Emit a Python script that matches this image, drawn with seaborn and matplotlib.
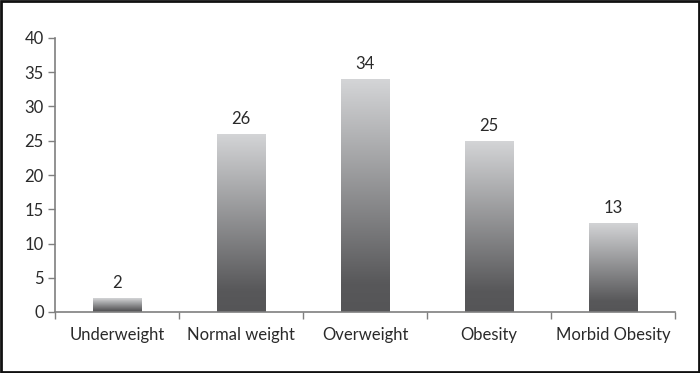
import numpy as np
import pandas as pd
import matplotlib
matplotlib.use('Agg')
import matplotlib.pyplot as plt
import seaborn as sns
from matplotlib.colors import LinearSegmentedColormap
from matplotlib.patches import Rectangle

# --- Data ---
categories = ['Underweight', 'Normal weight', 'Overweight', 'Obesity', 'Morbid Obesity']
values = [2, 26, 34, 25, 13]
y_ticks = [0, 5, 10, 15, 20, 25, 30, 35, 40]

sns.set_style('white')
plt.rcParams['font.family'] = ['Lato', 'DejaVu Sans']

df = pd.DataFrame({'category': categories, 'value': values})

fig = plt.figure(figsize=(7, 3.73), dpi=100)
ax = fig.add_axes([55 / 700, 1 - 312 / 373, 620 / 700, 274 / 373])

sns.barplot(data=df, x='category', y='value', ax=ax, width=0.39,
            color='#888888', saturation=1, edgecolor='none')

# gradient fill: light at top, dark at bottom (per bar)
grad = LinearSegmentedColormap.from_list('g', [(0.0, '#555557'), (0.12, '#58585a'),
                                               (1.0, '#d4d5d7')])
gimg = np.linspace(0, 1, 256).reshape(-1, 1)
for p in ax.patches:
    x0, y0 = p.get_x(), p.get_y()
    w, h = p.get_width(), p.get_height()
    p.set_facecolor('none')
    im = ax.imshow(gimg, cmap=grad, origin='lower', aspect='auto',
                   extent=[x0, x0 + w, y0, y0 + h], zorder=2, interpolation='bilinear')
    im.set_clip_path(p)
    ax.text(x0 + w / 2, h + 1.0, f'{h:.0f}', ha='center', va='bottom',
            fontsize=12, color='#2a2a2a')

ax.set_xlim(-0.5, len(categories) - 0.5)
ax.set_ylim(0, 40)
ax.set_yticks(y_ticks)
ax.set_xticks(range(len(categories)))
ax.set_xticklabels(categories)
ax.set_xticks(np.arange(-0.5, len(categories)), minor=True)
ax.set_xlabel('')
ax.set_ylabel('')

for side in ['top', 'right']:
    ax.spines[side].set_visible(False)
for side in ['left', 'bottom']:
    ax.spines[side].set_color('#7f7f7f')
    ax.spines[side].set_linewidth(1.2)

ax.tick_params(axis='y', which='major', left=True, length=5, width=1, color='#7f7f7f',
               labelsize=12, labelcolor='#2a2a2a', pad=3)
ax.tick_params(axis='x', which='major', bottom=False, labelsize=12,
               labelcolor='#2a2a2a', pad=7)
ax.tick_params(axis='x', which='minor', bottom=True, length=5, width=1, color='#7f7f7f')

# border around the whole figure
fig.patches.append(Rectangle((0.0015, 0.003), 0.997, 0.994, transform=fig.transFigure,
                             fill=False, edgecolor='#111111', linewidth=2))

fig.savefig('out.png', dpi=100)
